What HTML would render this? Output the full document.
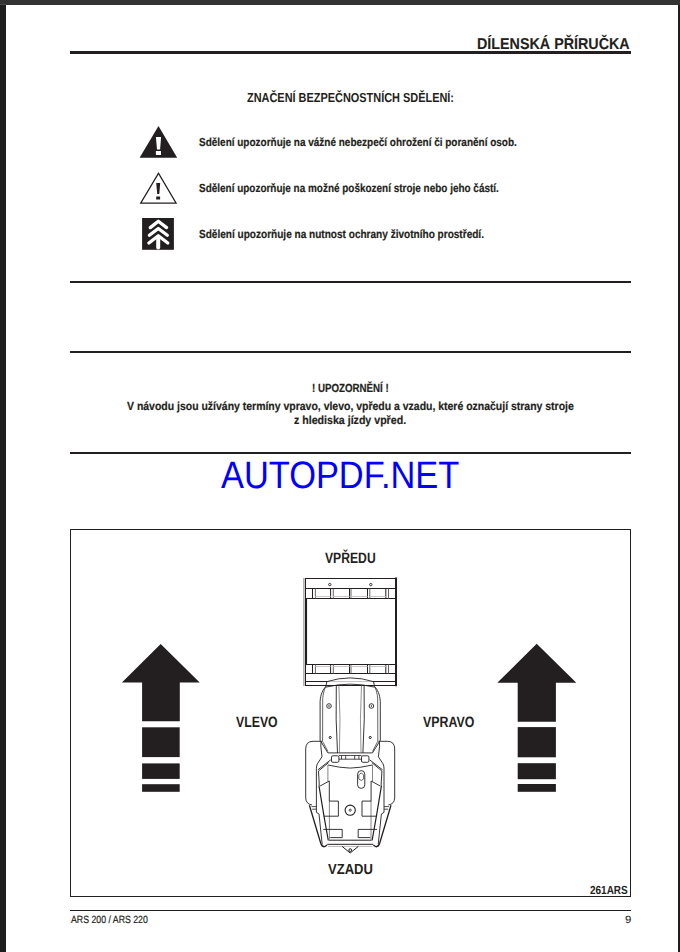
<!DOCTYPE html>
<html><head><meta charset="utf-8">
<style>
html,body{margin:0;padding:0;}
body{width:680px;height:952px;position:relative;overflow:hidden;background:#fff;font-family:"Liberation Sans",sans-serif;color:#231f20;}
.a{position:absolute;}
.t{position:absolute;white-space:nowrap;font-weight:bold;transform-origin:0 0;line-height:1;text-rendering:geometricPrecision;-webkit-text-stroke:0.2px currentColor;}
.ln{position:absolute;background:#231f20;}
#ftop{left:0;top:0;width:680px;height:5px;background:#333;}
#ftop2{left:0;top:4px;width:6px;height:1px;background:#4a4a4a;}
#fleft{left:0;top:5px;width:6px;height:947px;background:#1e1e1e;}
#fright{left:678px;top:5px;width:2px;height:947px;background:#1e1e1e;}
</style></head>
<body>
<div class="a" id="ftop"></div>
<div class="a" id="fleft"></div>
<div class="a" id="fright"></div>
<div class="a" id="ftop2"></div>

<!-- header -->
<div class="t" id="h1" style="left:476.60px;top:36.65px;font-size:15.77px;transform:scaleX(0.9079);-webkit-text-stroke:0.1px currentColor;">DÍLENSKÁ PŘÍRUČKA</div>
<div class="ln" style="left:70px;top:51px;width:561px;height:2.8px;"></div>

<div class="t" id="h2" style="left:246.56px;top:90.59px;font-size:13.0px;transform:scaleX(0.8404);-webkit-text-stroke:0px currentColor;">ZNAČENÍ BEZPEČNOSTNÍCH SDĚLENÍ:</div>

<div class="t" id="r1" style="left:198.50px;top:137.69px;font-size:11.55px;transform:scaleX(0.8645);">Sdělení upozorňuje na vážné nebezpečí ohrožení či poranění osob.</div>
<div class="t" id="r2" style="left:198.60px;top:182.73px;font-size:11.85px;transform:scaleX(0.8406);">Sdělení upozorňuje na možné poškození stroje nebo jeho částí.</div>
<div class="t" id="r3" style="left:198.57px;top:228.56px;font-size:11.69px;transform:scaleX(0.8605);">Sdělení upozorňuje na nutnost ochrany životního prostředí.</div>

<div class="ln" style="left:70px;top:281px;width:561px;height:2px;"></div>
<div class="ln" style="left:70px;top:351px;width:561px;height:2px;"></div>

<div class="t" id="u1" style="left:311.55px;top:382.53px;font-size:11.69px;transform:scaleX(0.8316);">! UPOZORNĚNÍ !</div>
<div class="t" id="u2" style="left:126.75px;top:400.62px;font-size:11.69px;transform:scaleX(0.8957);">V návodu jsou užívány termíny vpravo, vlevo, vpředu a vzadu, které označují strany stroje</div>
<div class="t" id="u3" style="left:293.55px;top:414.74px;font-size:11.7px;transform:scaleX(0.9082);">z hlediska jízdy vpřed.</div>

<div class="ln" style="left:70px;top:452px;width:561px;height:2px;"></div>

<div class="t" id="wm" style="left:220.57px;top:456.53px;font-size:38.25px;transform:scaleX(0.8992);color:#0000ff;font-weight:normal;-webkit-text-stroke:0px currentColor;">AUTOPDF.NET</div>

<!-- diagram box -->
<div class="a" style="left:70px;top:529px;width:559px;height:366px;border:1.3px solid #231f20;"></div>

<div class="t" id="d1" style="left:324.55px;top:550.56px;font-size:15.04px;transform:scaleX(0.8086);-webkit-text-stroke:0px currentColor;">VPŘEDU</div>
<div class="t" id="d2" style="left:235.50px;top:714.51px;font-size:15.04px;transform:scaleX(0.8171);-webkit-text-stroke:0px currentColor;">VLEVO</div>
<div class="t" id="d3" style="left:422.51px;top:714.74px;font-size:15.04px;transform:scaleX(0.8237);-webkit-text-stroke:0px currentColor;">VPRAVO</div>
<div class="t" id="d4" style="left:327.58px;top:862.65px;font-size:14.73px;transform:scaleX(0.8846);-webkit-text-stroke:0px currentColor;">VZADU</div>
<div class="t" id="d5" style="left:589.55px;top:884.56px;font-size:11.69px;transform:scaleX(0.8544);-webkit-text-stroke:0px currentColor;">261ARS</div>

<div class="ln" style="left:70px;top:910px;width:561px;height:1px;"></div>
<div class="t" id="f1" style="left:70.56px;top:915.56px;font-size:10.47px;transform:scaleX(0.8351);font-weight:normal;">ARS 200 / ARS 220</div>
<div class="t" id="f2" style="left:624.6px;top:915.7px;font-size:10.47px;transform:scaleX(1.08);font-weight:normal;-webkit-text-stroke:0.05px currentColor;">9</div>

<svg class="a" style="left:0;top:0" width="680" height="952" viewBox="0 0 680 952">
<g fill="#231f20">
<!-- icon 1 filled warning -->
<path d="M158.5 126 L177.2 157.8 L139.6 157.8 Z"/>
<!-- icon 2 outline warning -->
<path d="M158.5 172 L177.2 203.8 L139.6 203.8 Z M158.5 174.6 L141.8 202.6 L175 202.6 Z" fill-rule="evenodd"/>
<path d="M156.2 182.9 L160.2 182.9 L159.3 194.1 L157.2 194.1 Z M156.2 196.4 L160.1 196.4 L160.1 199.5 L156.2 199.5 Z"/>
<!-- icon 3 tree square -->
<rect x="142.1" y="218" width="31.8" height="31.8"/>
<!-- arrows -->
<path d="M160.7 644 L199.7 682.6 L179.8 682.6 L179.8 721.3 L142.1 721.3 L142.1 682.6 L121.9 682.6 Z"/>
<rect x="142.1" y="727.3" width="37.6" height="29.8"/>
<rect x="142.1" y="763.4" width="37.6" height="15.5"/>
<rect x="142.1" y="784.2" width="37.6" height="7.6"/>
<path d="M536.7 643.8 L576.3 682.8 L555.9 682.8 L555.9 721.8 L517.7 721.8 L517.7 682.8 L497.3 682.8 Z"/>
<rect x="517.7" y="727.1" width="38.2" height="30.2"/>
<rect x="517.7" y="763.2" width="38.2" height="16"/>
<rect x="517.7" y="784" width="38.2" height="7.8"/>
</g>
<g fill="#fff">
<path d="M155.9 137.1 L161.1 137.1 L160.1 149.5 L157 149.5 Z M155.9 151.1 L161 151.1 L161 155.1 L155.9 155.1 Z"/>
</g>
<g fill="none" stroke="#fff" stroke-width="3.3" stroke-linecap="round" stroke-linejoin="round">
<path d="M150.3 227.6 L158.3 221.2 L166.6 227.6"/>
<path d="M149.4 235.3 L158.3 228.5 L167.3 235.3"/>
<path d="M148.9 243 L158.3 235.8 L167.8 243"/>
<path d="M158.2 237 L158.2 247.5" stroke-width="4"/>
</g>
<!-- VEHICLE -->
<g id="veh" fill="none" stroke="#231f20" stroke-width="0.9">
<!-- bucket -->
<rect x="303" y="578" width="1.7" height="108" fill="#b4b4b4" stroke="none"/>
<path d="M305.5 578 V686 M305 578.5 H396 M305 685.5 H396" stroke-width="1"/>
<path d="M396 577.5 V686.2" stroke-width="2"/>
<path d="M305 588.5 H395 M305 598.5 H395 M305 664.5 H395 M305 673.5 H395 M305 681.5 H395" stroke-width="1"/>
<path d="M306.4 598 V665" stroke-width="1.3"/>
<path d="M312.5 588.5 V598.5 M330.6 588.5 V598.5 M349.5 588.5 V598.5 M367.5 588.5 V598.5 M385.8 588.5 V598.5 M312.5 664.5 V673.5 M330.6 664.5 V673.5 M349.5 664.5 V673.5 M367.5 664.5 V673.5 M385.8 664.5 V673.5" stroke-width="1"/>
<path d="M315.4 588.5 V598.5 M333.3 588.5 V598.5 M351 588.5 V598.5 M369.8 588.5 V598.5 M388.5 588.5 V598.5 M315.4 664.5 V673.5 M333.3 664.5 V673.5 M351 664.5 V673.5 M369.8 664.5 V673.5 M388.5 664.5 V673.5" stroke="#555" stroke-width="0.9"/>
<path d="M315.4 596.5 H330.6 M333.3 596.5 H349.5 M351 596.5 H367.5 M369.8 596.5 H385.8 M315.4 666.5 H330.6 M333.3 666.5 H349.5 M351 666.5 H367.5 M369.8 666.5 H385.8" stroke="#c8c8c8" stroke-width="1"/>
<circle cx="329.8" cy="584.6" r="1.2" stroke-width="0.9"/>
<circle cx="370.8" cy="584.6" r="1.2" stroke-width="0.9"/>
<!-- hood -->
<path d="M326.3 681.8 Q350.2 674 374.1 681.8" fill="#fff"/>
<path d="M326 687.1 Q350.2 681.2 374.4 687.1"/>
<g id="lh">
<path d="M326.8 681.8 L325.8 686.7 C323 689.5 320.6 694 320.1 701.4 L320.1 740.3 L327.9 752.9 L350.2 752.9"/>
<path d="M325.8 686.4 C324 690 323 694 322.7 699 L322.6 741.3 L327.9 751.5" stroke-width="0.7"/>
<path d="M336.3 685.8 Q335.4 719 337.5 752.9" stroke-width="0.9"/>
<path d="M338.9 685.6 Q340.8 719 339.4 752.9" stroke-width="0.8" stroke="#777"/>
<circle cx="329" cy="706" r="2.3" stroke-width="0.9"/>
<circle cx="329" cy="706" r="0.8" fill="#231f20" stroke="none"/>
<circle cx="330.2" cy="737.5" r="1.1" stroke-width="1"/>
<!-- lights -->
<rect x="331.5" y="755.8" width="7.4" height="6.5" rx="1.3"/>
<path d="M338.9 755.5 H350.2 M338.9 759.2 H350.2 M341.5 755.5 V759.2 M345.7 755.5 V759.2" stroke-width="0.8"/>
<!-- wheel -->
<path d="M322 741.3 L313 741.3 Q305.7 741.3 305.7 749 L305.7 798 Q306 804 312 805"/>
<!-- shoulders -->
<path d="M321 742 L320.8 746.2 L322 756.8 L317.3 763.9 Q316.4 766 316.4 768.6 L316.4 812.4 L319 814 L322.2 844.5" stroke-width="0.9"/>
<path d="M330.8 759.8 L317.9 769.8 M328.5 762.7 L318.5 771 L319.3 785.3" stroke-width="0.9"/>
<!-- flap -->
<path d="M309.4 805.3 L320.8 843.5 Q322 846.8 324.5 846.6" stroke-width="1.3"/>
<path d="M311.5 806.6 H316.4 M312.2 809.2 H316.4" stroke-width="0.8"/>
<!-- rear body -->
<path d="M327.9 765 Q340 767.8 350.2 768.1"/>
<path d="M327.9 765 L327.9 781.5 M329.4 801 L329.4 839.5" stroke="#777" stroke-width="0.9"/>
<path d="M320.1 786 L329.3 781 L329.3 801.1 L338.4 801.1 L338.4 816.2 L323.9 816.2" stroke-width="0.9"/>
<path d="M318.9 785.3 L323.9 815.6 L328.3 840.5" stroke-width="1.2"/>
<path d="M323.3 829.4 H342.2 V837.6 H330.2" stroke-width="0.9"/>
<path d="M329 840.2 H350.2 M327.2 844.3 H350.2" stroke-width="1"/>
<path d="M328 846.4 H350.2" stroke="#aaa" stroke-width="0.8"/>
<path d="M322.2 846 Q324 848 327 845" stroke-width="1.1"/>
<path d="M342.1 846.4 L350.2 853" stroke-width="1"/>
</g>
<use href="#lh" transform="translate(700.4,0) scale(-1,1)"/>
<!-- center items -->
<circle cx="350.2" cy="810.2" r="5.1" stroke-width="1.1"/>
<circle cx="350.2" cy="810.2" r="1.1" stroke-width="0.8"/>
<rect x="357.6" y="770.6" width="7.2" height="17.8" rx="3.6"/>
<path d="M358.8 779 V775 Q361.2 771.3 363.6 775 V779 Q361.2 782 358.8 779" stroke-width="0.7"/>
<circle cx="350.2" cy="850.1" r="1.4" stroke-width="1"/>
</g>
</svg>
</body></html>
